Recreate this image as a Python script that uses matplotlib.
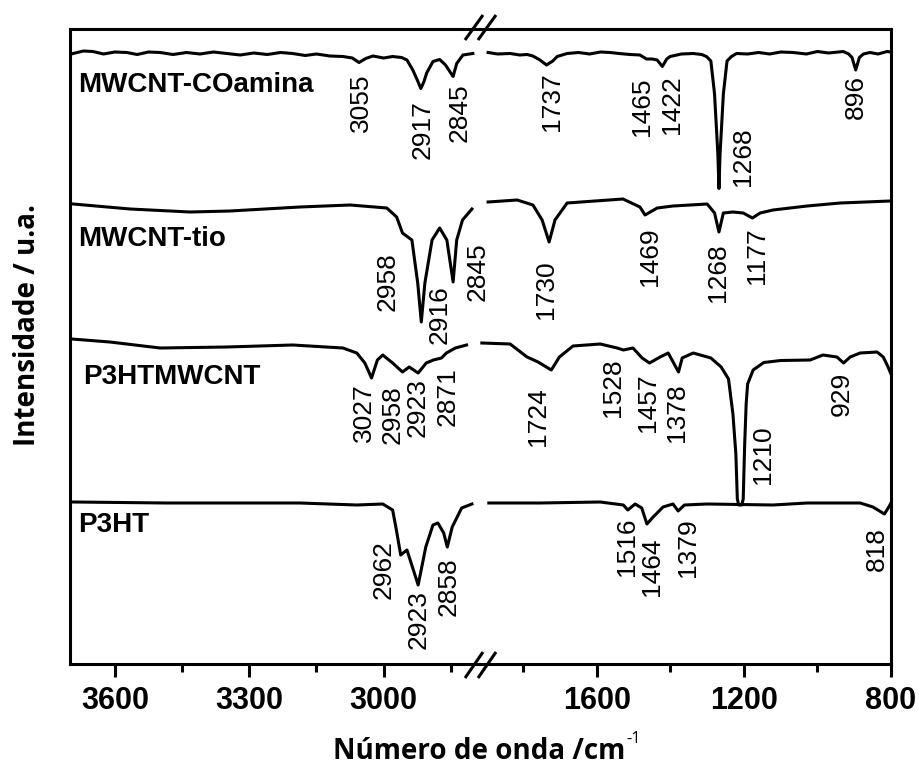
import matplotlib
matplotlib.use("Agg")
import matplotlib.pyplot as plt
from matplotlib.lines import Line2D
import numpy as np

# ---------------- data ----------------
# FTIR spectra (wavenumber / cm-1, intensity in arbitrary units, stacked)
coamina_wn = [3693, 3670, 3649, 3625, 3600, 3573, 3550, 3525, 3499, 3470, 3440, 3410,
              3380, 3350, 3320, 3290, 3260, 3230, 3203, 3175, 3150, 3120, 3091, 3070,
              3055, 3040, 3024, 3000, 2980, 2960, 2948, 2935, 2925, 2917, 2910, 2904,
              2890, 2875, 2862, 2845, 2837, 2823, 2801,
              1896, 1870, 1836, 1810, 1790, 1774, 1755, 1737, 1720, 1708, 1681, 1650,
              1620, 1590, 1564, 1540, 1510, 1483, 1465, 1450, 1436, 1422, 1410, 1401,
              1370, 1338, 1315, 1302, 1290, 1286, 1280, 1277, 1271, 1268, 1265, 1259,
              1256, 1250, 1246, 1234, 1220, 1190, 1160, 1130, 1100, 1066, 1030, 1000,
              970, 930, 915, 906, 896, 886, 875, 857, 835, 811, 800]
coamina_int = [122.1, 122.6, 122.5, 122.0, 122.4, 122.3, 121.9, 122.4, 122.3, 121.9, 122.3, 122.0,
               122.4, 122.1, 121.8, 122.2, 121.9, 122.3, 122.1, 121.7, 122.0, 121.6, 121.5, 121.2,
               120.3, 121.1, 121.6, 121.2, 121.5, 121.3, 120.8, 118.8, 116.8, 115.1, 116.5, 118.2,
               120.5, 120.9, 119.8, 117.5, 120.1, 121.8, 122.1,
               122.3, 122.0, 122.1, 121.8, 121.9, 121.6, 120.8, 119.8, 120.6, 121.5, 122.1, 122.3,
               122.0, 122.4, 122.3, 122.1, 121.9, 121.8, 121.0, 121.0, 120.8, 119.5, 121.0, 121.5,
               122.0, 122.1, 121.9, 121.5, 120.6, 118.0, 114.0, 110.0, 102.0, 95.1, 102.0, 110.0,
               114.0, 118.0, 120.6, 121.5, 122.1, 122.0, 122.3, 122.0, 122.4, 122.3, 122.0, 122.5,
               122.2, 122.5, 122.0, 121.3, 118.8, 121.3, 122.0, 122.3, 122.0, 122.5, 122.4]
coamina_peaks = [3055, 2917, 2845, 1737, 1465, 1422, 1268, 896]

tio_wn = [3693, 3566, 3432, 3343, 3187, 3075, 2993, 2971, 2958, 2937, 2924, 2916, 2908,
          2892, 2875, 2859, 2845, 2837, 2824, 2803,
          1896, 1817, 1774, 1749, 1730, 1714, 1681, 1529, 1483, 1469, 1436, 1393, 1300,
          1280, 1268, 1256, 1230, 1202, 1177, 1156, 1121, 1028, 938, 802]
tio_int = [92.0, 91.0, 90.4, 90.6, 91.4, 91.8, 91.2, 89.4, 86.2, 84.8, 76.2, 68.4, 76.2,
           84.8, 87.2, 84.8, 76.4, 84.8, 88.8, 91.0,
           92.4, 92.8, 91.8, 88.8, 84.4, 88.8, 92.2, 93.0, 91.4, 89.8, 91.2, 91.6, 92.0,
           90.2, 86.4, 90.2, 90.4, 90.2, 89.2, 90.2, 90.8, 91.6, 92.2, 92.6]
tio_peaks = [2958, 2916, 2845, 1730, 1469, 1268, 1177]

p3htmwcnt_wn = [3696, 3611, 3499, 3350, 3203, 3091, 3060, 3042, 3027, 3014, 3002, 2980,
                2958, 2943, 2923, 2905, 2889, 2871, 2860, 2840, 2815,
                1913, 1836, 1790, 1760, 1724, 1702, 1665, 1591, 1545, 1528, 1502, 1477,
                1457, 1428, 1406, 1378, 1368, 1338, 1290, 1262, 1242, 1230, 1222, 1218,
                1214, 1206, 1202, 1198, 1194, 1190, 1175, 1146, 1100, 1020, 985, 947, 929,
                911, 884, 838, 821, 808, 800]
p3htmwcnt_int = [65.0, 64.4, 63.2, 63.4, 63.8, 63.2, 62.2, 60.2, 57.2, 60.8, 61.8, 60.2,
                 58.4, 59.4, 58.2, 60.2, 60.8, 61.2, 62.2, 63.2, 63.8,
                 64.2, 64.0, 61.4, 60.4, 58.8, 61.4, 63.6, 64.0, 63.2, 62.8, 63.2, 61.2,
                 60.2, 61.4, 62.2, 58.4, 61.2, 62.2, 61.2, 59.4, 57.0, 50.0, 42.0, 33.0,
                 31.8, 31.8, 33.0, 44.0, 52.0, 56.0, 58.8, 60.3, 60.7, 60.8, 61.8, 61.4, 60.2,
                 61.4, 62.2, 62.4, 61.4, 59.4, 58.0]
p3htmwcnt_peaks = [3027, 2958, 2923, 2871, 1724, 1528, 1457, 1378, 1210, 929]

p3ht_wn = [3693, 3484, 3187, 3060, 3002, 2980, 2972, 2962, 2948, 2923, 2906, 2890, 2879,
           2866, 2858, 2847, 2826, 2803,
           1894, 1755, 1591, 1528, 1516, 1496, 1478, 1464, 1447, 1420, 1393, 1379, 1362,
           1300, 1121, 1028, 884, 849, 818, 806, 800]
p3ht_int = [32.4, 32.2, 32.2, 31.8, 32.0, 30.8, 27.0, 21.8, 22.8, 15.8, 23.4, 27.8, 28.2,
            26.2, 23.4, 27.4, 31.2, 32.0,
            32.2, 32.2, 32.4, 31.8, 30.8, 32.0, 31.2, 28.0, 29.4, 31.4, 32.0, 30.6, 31.8,
            32.0, 31.8, 32.2, 32.2, 31.4, 30.0, 31.4, 32.2]
p3ht_peaks = [2962, 2923, 2858, 1516, 1464, 1379, 818]

sample_names = ["MWCNT-COamina", "MWCNT-tio", "P3HTMWCNT", "P3HT"]

left_ticks = [3600, 3300, 3000]
left_minor = [3450, 3150, 2850]
right_ticks = [1600, 1200, 800]
right_minor = [1800, 1400, 1000]

# ---------------- figure ----------------
W, H = 920, 767
fig = plt.figure(figsize=(W / 100, H / 100), dpi=100)
ax1 = fig.add_axes([70 / W, 103 / H, 410 / W, 635 / H])
ax2 = fig.add_axes([480 / W, 103 / H, 411 / W, 635 / H])

LW = 2.2
FONT = "Liberation Sans"

ax1.set_xlim(3700, 2785)
ax2.set_xlim(1918, 800)
for ax in (ax1, ax2):
    ax.patch.set_visible(False)
    ax.set_ylim(0, 127)
    ax.set_yticks([])
    for sp in ax.spines.values():
        sp.set_linewidth(LW)
    ax.tick_params(axis="x", which="major", direction="out", length=9, width=LW,
                   labelsize=22, pad=7)
    ax.tick_params(axis="x", which="minor", direction="out", length=5.5, width=LW)
ax1.spines["right"].set_visible(False)
ax2.spines["left"].set_visible(False)
ax1.set_xticks(left_ticks)
ax1.set_xticks(left_minor, minor=True)
ax2.set_xticks(right_ticks)
ax2.set_xticks(right_minor, minor=True)
for ax in (ax1, ax2):
    for lbl in ax.get_xticklabels():
        lbl.set_fontweight("bold")
        lbl.set_fontfamily(FONT)

spectra = [(coamina_wn, coamina_int), (tio_wn, tio_int),
           (p3htmwcnt_wn, p3htmwcnt_int), (p3ht_wn, p3ht_int)]
for wn, inten in spectra:
    wn = np.asarray(wn, float)
    inten = np.asarray(inten, float)
    hi = wn > 2000
    ax1.plot(wn[hi], inten[hi], color="black", lw=LW, solid_joinstyle="round")
    ax2.plot(wn[~hi], inten[~hi], color="black", lw=LW, solid_joinstyle="round")

# sample names
name_pos = [(3682, 115.9), (3682, 85.0), (3671, 57.4), (3682, 27.8)]
for name, (x, y) in zip(sample_names, name_pos):
    ax1.text(x, y, name, ha="left", va="center", fontsize=20, fontweight="bold",
             family=FONT)

# peak labels: (label x in cm-1, top of text in intensity units)
label_pos = {
    "coamina": [(3051, 118.2), (2913, 112.8), (2830, 116.2), (1722, 118.4),
                (1477, 117.2), (1396, 117.8), (1202, 107.4), (895, 117.8)],
    "tio": [(2991, 82.4), (2875, 75.8), (2790, 84.4), (1738, 80.8),
            (1455, 87.4), (1270, 84.2), (1164, 87.4)],
    "p3htmwcnt": [(3044, 56.2), (2980, 55.8), (2924, 57.2), (2857, 59.4),
                  (1760, 55.4), (1556, 61.2), (1461, 58.2), (1382, 56.2),
                  (1148, 47.8), (933, 58.4)],
    "p3ht": [(3000, 24.8), (2921, 14.8), (2855, 21.4), (1518, 29.4),
             (1450, 25.2), (1352, 29.2), (838, 27.4)],
}
peak_sets = {"coamina": coamina_peaks, "tio": tio_peaks,
             "p3htmwcnt": p3htmwcnt_peaks, "p3ht": p3ht_peaks}
for key, peaks in peak_sets.items():
    for val, (x, y) in zip(peaks, label_pos[key]):
        ax = ax1 if x > 2000 else ax2
        ax.text(x, y, str(val), rotation=90, ha="center", va="top", fontsize=19,
                family=FONT, clip_on=False, zorder=5)

# axis break marks (top and bottom)
for y0, y1 in [(678, 652), (40, 15)]:
    for dx in (0, 13):
        fig.add_artist(Line2D([(465 + dx) / W, (483 + dx) / W],
                              [(H - y0) / H, (H - y1) / H],
                              color="black", lw=LW, solid_capstyle="butt"))

# axis titles
xl = fig.text(333 / W, 1 / H, "Número de onda /cm", ha="left", va="bottom",
              fontsize=20, fontweight="bold", family="Open Sans")
fig.canvas.draw()
bb = xl.get_window_extent()
fig.text(bb.x1 / W + 1 / W, 24 / H, "-1", ha="left", va="baseline",
         fontsize=12, family="Open Sans")
fig.text(28 / W, (H - 325) / H, "Intensidade / u.a.", rotation=90, ha="center",
         va="center", fontsize=20, fontweight="bold", family="Open Sans")

fig.savefig("out.png", dpi=100)
